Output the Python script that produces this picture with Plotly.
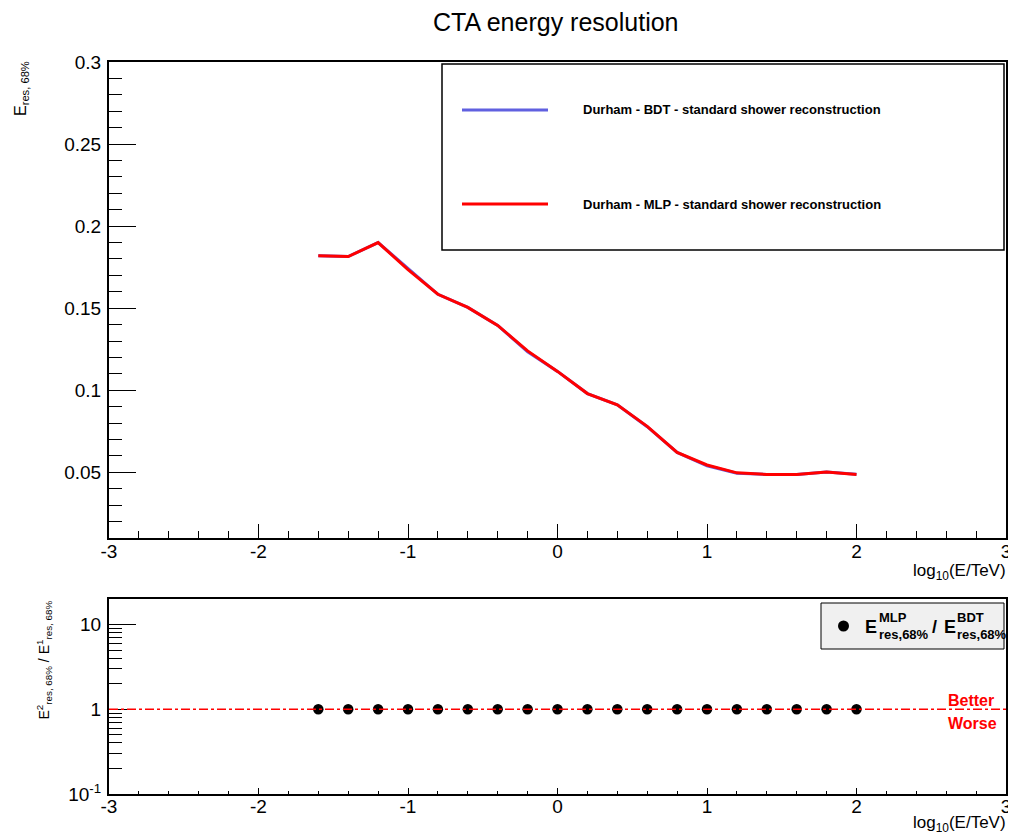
import plotly.graph_objects as go

# ---------------- data ----------------
log_energy = [-1.6, -1.4, -1.2, -1.0, -0.8, -0.6, -0.4, -0.2, 0.0, 0.2,
              0.4, 0.6, 0.8, 1.0, 1.2, 1.4, 1.6, 1.8, 2.0]
res_bdt = [0.1820, 0.1815, 0.1900, 0.1740, 0.1585, 0.1505, 0.1395, 0.1235, 0.1115, 0.0980,
           0.0912, 0.0778, 0.0621, 0.0540, 0.0495, 0.0487, 0.0487, 0.0502, 0.0488]
res_mlp = [0.1820, 0.1815, 0.1900, 0.1735, 0.1585, 0.1505, 0.1395, 0.1240, 0.1115, 0.0980,
           0.0912, 0.0780, 0.0621, 0.0545, 0.0497, 0.0487, 0.0487, 0.0502, 0.0487]
ratio_mlp_bdt = [1.00, 1.00, 1.00, 1.00, 1.00, 1.00, 1.00, 1.00, 1.00, 1.00,
                 1.00, 1.00, 1.00, 1.00, 1.00, 1.00, 1.00, 1.00, 1.00]
reference_ratio = 1.0

x_ticks = [-3, -2, -1, 0, 1, 2, 3]
x_ticktext = ["-3", "-2", "-1", "0", "1", "2", "3"]
y_ticks_top = [0.05, 0.1, 0.15, 0.2, 0.25, 0.3]
y_ticktext_top = ["0.05", "0.1", "0.15", "0.2", "0.25", "0.3"]
y_ticks_bottom = [0.1, 1, 10]
y_ticktext_bottom = ["10<sup>-1</sup>", "1", "10"]

name_bdt = "Durham - BDT - standard shower reconstruction"
name_mlp = "Durham - MLP - standard shower reconstruction"

# ---------------- layout helpers ----------------
# the page body has an 8 px margin, so the figure is 8 px smaller than the window
SCREEN_W, SCREEN_H, OFF = 1016, 838, 8
W, H = SCREEN_W - OFF, SCREEN_H - OFF
L, R, T, B = 109, 1006, 62, 794          # plot-area box in screen pixels
PW, PH = R - L, B - T
FONT = "Liberation Sans, Arial, Helvetica, sans-serif"


def fx(px):
    return (px - L) / PW


def fy(py):
    return (B - py) / PH


BLUE = "#6060e0"
RED = "#ff0000"

fig = go.Figure()

fig.add_trace(go.Scatter(x=log_energy, y=res_bdt, mode="lines", name=name_bdt,
                         line=dict(color=BLUE, width=3), xaxis="x", yaxis="y",
                         showlegend=False))
fig.add_trace(go.Scatter(x=log_energy, y=res_mlp, mode="lines", name=name_mlp,
                         line=dict(color=RED, width=3), xaxis="x", yaxis="y",
                         showlegend=False))
fig.add_trace(go.Scatter(x=log_energy, y=ratio_mlp_bdt, mode="markers",
                         name="MLP / BDT",
                         marker=dict(color="black", size=10.5, symbol="circle"),
                         xaxis="x2", yaxis="y2", showlegend=False))

minor_y2 = [0.2, 0.3, 0.4, 0.5, 0.6, 0.7, 0.8, 0.9,
            2, 3, 4, 5, 6, 7, 8, 9, 20]

common_axis = dict(showline=True, linecolor="black", linewidth=2, mirror=True,
                   showgrid=False, zeroline=False, ticks="inside",
                   tickcolor="black", tickwidth=1, automargin=False,
                   tickfont=dict(family=FONT, size=19, color="black"))

fig.update_layout(
    width=W, height=H,
    margin=dict(l=L - OFF, r=SCREEN_W - R, t=T - OFF, b=SCREEN_H - B, autoexpand=False),
    paper_bgcolor="white", plot_bgcolor="white",
    showlegend=False,
    xaxis=dict(domain=[0, 1], anchor="y", range=[-3, 3],
               tickmode="array", tickvals=x_ticks, ticktext=x_ticktext, ticklen=14,
               ticklabelstandoff=-5,
               minor=dict(dtick=0.2, tick0=-3, ticklen=7, ticks="inside",
                          tickcolor="black", tickwidth=1),
               **common_axis),
    yaxis=dict(domain=[fy(538), 1], anchor="x", range=[0.01, 0.3],
               tickmode="array", tickvals=y_ticks_top, ticktext=y_ticktext_top,
               ticklen=27, ticklabelstandoff=2,
               minor=dict(dtick=0.01, tick0=0, ticklen=13, ticks="inside",
                          tickcolor="black", tickwidth=1),
               **common_axis),
    xaxis2=dict(domain=[0, 1], anchor="y2", range=[-3, 3],
                tickmode="array", tickvals=x_ticks, ticktext=x_ticktext, ticklen=6,
                ticklabelstandoff=-6,
                minor=dict(dtick=0.2, tick0=-3, ticklen=3, ticks="inside",
                           tickcolor="black", tickwidth=1),
                **common_axis),
    yaxis2=dict(domain=[0, fy(599)], anchor="x2", type="log",
                range=[-1, 1.30103],
                tickmode="array", tickvals=y_ticks_bottom,
                ticktext=y_ticktext_bottom, ticklen=27, ticklabelstandoff=2,
                minor=dict(tickmode="array", tickvals=minor_y2, ticklen=13,
                           ticks="inside", tickcolor="black", tickwidth=1),
                **common_axis),
)

# reference line at ratio = 1
fig.add_shape(type="line", xref="x2", yref="y2", x0=-3, x1=3,
              y0=reference_ratio, y1=reference_ratio,
              line=dict(color=RED, width=1.5, dash="dashdot"))

# ---------------- top legend (ROOT-style box) ----------------
fig.add_shape(type="rect", xref="paper", yref="paper",
              x0=fx(442), x1=fx(1004), y0=fy(250), y1=fy(64),
              line=dict(color="black", width=1.5), fillcolor="white", layer="above")
fig.add_shape(type="line", xref="paper", yref="paper",
              x0=fx(462), x1=fx(548), y0=fy(110), y1=fy(110),
              line=dict(color=BLUE, width=3))
fig.add_shape(type="line", xref="paper", yref="paper",
              x0=fx(462), x1=fx(548), y0=fy(204), y1=fy(204),
              line=dict(color=RED, width=3))
for label, py in [(name_bdt, 110), (name_mlp, 204)]:
    fig.add_annotation(x=fx(581), y=fy(py), xref="paper", yref="paper",
                       text="<b>%s</b>" % label, showarrow=False,
                       xanchor="left", yanchor="middle",
                       font=dict(family=FONT, size=13, color="black"))

# ---------------- bottom legend ----------------
fig.add_shape(type="rect", xref="paper", yref="paper",
              x0=fx(821), x1=fx(1004), y0=fy(649), y1=fy(603),
              line=dict(color="black", width=1), fillcolor="#f0f0f0")
fig.add_shape(type="circle", xref="paper", yref="paper",
              x0=fx(838), x1=fx(849), y0=fy(631.5), y1=fy(620.5),
              line=dict(color="black", width=0), fillcolor="black")


def legend_text(txt, px, py, size):
    fig.add_annotation(x=fx(px), y=fy(py), xref="paper", yref="paper",
                       text="<b>%s</b>" % txt, showarrow=False,
                       xanchor="left", yanchor="middle",
                       font=dict(family=FONT, size=size, color="black"))


legend_text("E", 863, 627, 18)
legend_text("MLP", 877, 617, 13)
legend_text("res,68%", 877, 634, 13)
legend_text("/", 930, 627, 18)
legend_text("E", 942, 627, 18)
legend_text("BDT", 955, 617, 13)
legend_text("res,68%", 955, 634, 13)

# Better / Worse
fig.add_annotation(x=fx(946), y=fy(700), xref="paper", yref="paper",
                   text="<b>Better</b>", showarrow=False, xanchor="left",
                   yanchor="middle", font=dict(family=FONT, size=16, color=RED))
fig.add_annotation(x=fx(946), y=fy(723), xref="paper", yref="paper",
                   text="<b>Worse</b>", showarrow=False, xanchor="left",
                   yanchor="middle", font=dict(family=FONT, size=16, color=RED))

# ---------------- titles ----------------
fig.add_annotation(x=fx(556), y=fy(22), xref="paper", yref="paper",
                   text="CTA energy resolution", showarrow=False,
                   xanchor="center", yanchor="middle",
                   font=dict(family=FONT, size=25, color="black"))
for py in (572, 824):
    fig.add_annotation(x=fx(1008), y=fy(py), xref="paper", yref="paper",
                       text="log<sub>10</sub>(E/TeV)", showarrow=False,
                       xanchor="right", yanchor="middle",
                       font=dict(family=FONT, size=17, color="black"))
fig.add_annotation(x=fx(10), y=fy(59), xref="paper", yref="paper",
                   text="E<sub>res, 68%</sub>", showarrow=False, textangle=-90,
                   xanchor="left", yanchor="top",
                   font=dict(family=FONT, size=16, color="black"))
fig.add_annotation(x=fx(32), y=fy(599), xref="paper", yref="paper",
                   text="E<sup>2</sup><sub>res, 68%</sub> / E<sup>1</sup><sub>res, 68%</sub>",
                   showarrow=False, textangle=-90,
                   xanchor="left", yanchor="top",
                   font=dict(family=FONT, size=14, color="black"))

fig.write_html("out.html")
